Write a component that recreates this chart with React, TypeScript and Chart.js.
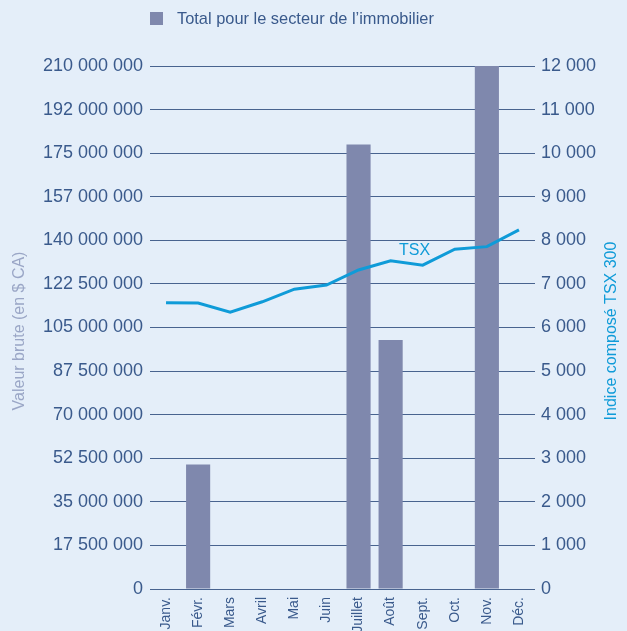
import React, { useEffect, useRef } from 'react';
import { Chart, registerables } from 'chart.js';

Chart.register(...registerables);

const months = ['Janv.', 'Févr.', 'Mars', 'Avril', 'Mai', 'Juin', 'Juillet', 'Août', 'Sept.', 'Oct.', 'Nov.', 'Déc.'];
const realEstateTotals = [0, 50000000, 0, 0, 0, 0, 178500000, 100000000, 0, 0, 210000000, 0];
const tsxIndex = [6570, 6560, 6350, 6590, 6880, 6975, 7320, 7530, 7430, 7795, 7855, 8240];
const leftTickLabels = [
  '0', '17 500 000', '35 000 000', '52 500 000', '70 000 000', '87 500 000', '105 000 000',
  '122 500 000', '140 000 000', '157 000 000', '175 000 000', '192 000 000', '210 000 000',
];
const rightTickLabels = [
  '0', '1 000', '2 000', '3 000', '4 000', '5 000', '6 000', '7 000', '8 000', '9 000', '10 000', '11 000', '12 000',
];
const barLabel = 'Total pour le secteur de l\u2019immobilier';
const lineLabel = 'TSX';
const leftTitle = 'Valeur brute (en $ CA)';
const rightTitle = 'Indice composé TSX 300';

const FONT = "'Helvetica Neue', Helvetica, 'Liberation Sans', Arial, sans-serif";
const BG = '#e4eef9';
const TEXT = '#3a5a8c';
const BAR = '#7f88ad';
const LINE = '#0f9bd8';
const GRID = '#48638f';
const LEFT_TITLE = '#9aa6c6';

const decorPlugin = {
  id: 'decor',
  beforeDraw(chart: any) {
    const ctx = chart.ctx;
    ctx.save();
    ctx.fillStyle = BG;
    ctx.fillRect(0, 0, chart.width, chart.height);
    ctx.restore();
  },
  afterDraw(chart: any) {
    const ctx = chart.ctx;
    const area = chart.chartArea;
    const midY = (area.top + area.bottom) / 2 + 3.5;
    ctx.save();
    // legend
    ctx.fillStyle = BAR;
    ctx.fillRect(area.left, 12, 13, 13);
    ctx.fillStyle = TEXT;
    ctx.font = `16.4px ${FONT}`;
    ctx.textBaseline = 'middle';
    ctx.textAlign = 'left';
    ctx.fillText(barLabel, area.left + 27, 19);
    ctx.restore();
    // axis titles (both read bottom to top)
    const drawTitle = (text: string, color: string, x: number) => {
      ctx.save();
      ctx.fillStyle = color;
      ctx.font = `16px ${FONT}`;
      ctx.translate(x, midY);
      ctx.rotate(-Math.PI / 2);
      ctx.textAlign = 'center';
      ctx.textBaseline = 'middle';
      ctx.fillText(text, 0, 0);
      ctx.restore();
    };
    drawTitle(leftTitle, LEFT_TITLE, 20);
    drawTitle(rightTitle, LINE, chart.width - 15);
    // TSX label
    const xs = chart.scales.x;
    const yr = chart.scales.yRight;
    ctx.save();
    ctx.fillStyle = LINE;
    ctx.font = `16px ${FONT}`;
    ctx.textAlign = 'center';
    ctx.textBaseline = 'middle';
    const x = xs.getPixelForValue(7) + 24;
    const y = yr.getPixelForValue(tsxIndex[7]) - 10;
    ctx.fillText(lineLabel, x, y);
    ctx.restore();
  },
};

export default function App() {
  const ref = useRef<HTMLCanvasElement | null>(null);
  useEffect(() => {
    document.body.style.background = BG;
    document.body.style.margin = '0';
    document.body.style.overflow = 'hidden';
    const chart = new Chart(ref.current as HTMLCanvasElement, {
      type: 'bar',
      data: {
        labels: months,
        datasets: [
          {
            type: 'line',
            label: lineLabel,
            data: tsxIndex,
            yAxisID: 'yRight',
            borderColor: LINE,
            backgroundColor: LINE,
            borderWidth: 3,
            pointRadius: 0,
            tension: 0,
            order: 0,
          } as any,
          {
            type: 'bar',
            label: barLabel,
            data: realEstateTotals,
            yAxisID: 'y',
            backgroundColor: BAR,
            borderWidth: 0,
            barPercentage: 0.94,
            categoryPercentage: 0.8,
            order: 1,
          },
        ],
      },
      options: {
        animation: false,
        responsive: true,
        maintainAspectRatio: false,
        layout: { padding: { top: 66, left: 0, right: 0, bottom: 0 } },
        plugins: {
          legend: { display: false },
          tooltip: { enabled: false },
        },
        scales: {
          x: {
            grid: { display: false },
            border: { display: false },
            ticks: {
              color: TEXT,
              font: { family: FONT, size: 14 },
              minRotation: 90,
              maxRotation: 90,
              padding: 0,
              autoSkip: false,
            },
            afterFit(scale: any) {
              scale.height = 42;
            },
          },
          y: {
            position: 'left',
            min: 0,
            max: 210000000,
            grid: { color: GRID, lineWidth: 1, drawTicks: false },
            border: { display: false },
            ticks: {
              stepSize: 17500000,
              color: TEXT,
              padding: 7,
              font: { family: FONT, size: 18 },
              callback: (_v: any, i: number) => leftTickLabels[i],
            },
            afterFit(scale: any) {
              scale.width = 150;
            },
          },
          yRight: {
            position: 'right',
            min: 0,
            max: 12000,
            grid: { display: false, drawTicks: false },
            border: { display: false },
            ticks: {
              stepSize: 1000,
              color: TEXT,
              padding: 6,
              font: { family: FONT, size: 18 },
              callback: (_v: any, i: number) => rightTickLabels[i],
            },
            afterFit(scale: any) {
              scale.width = 92;
            },
          },
        },
      },
      plugins: [decorPlugin],
    });
    return () => chart.destroy();
  }, []);
  return (
    <div style={{ position: 'relative', width: '627px', height: '631px' }}>
      <canvas ref={ref} />
    </div>
  );
}
